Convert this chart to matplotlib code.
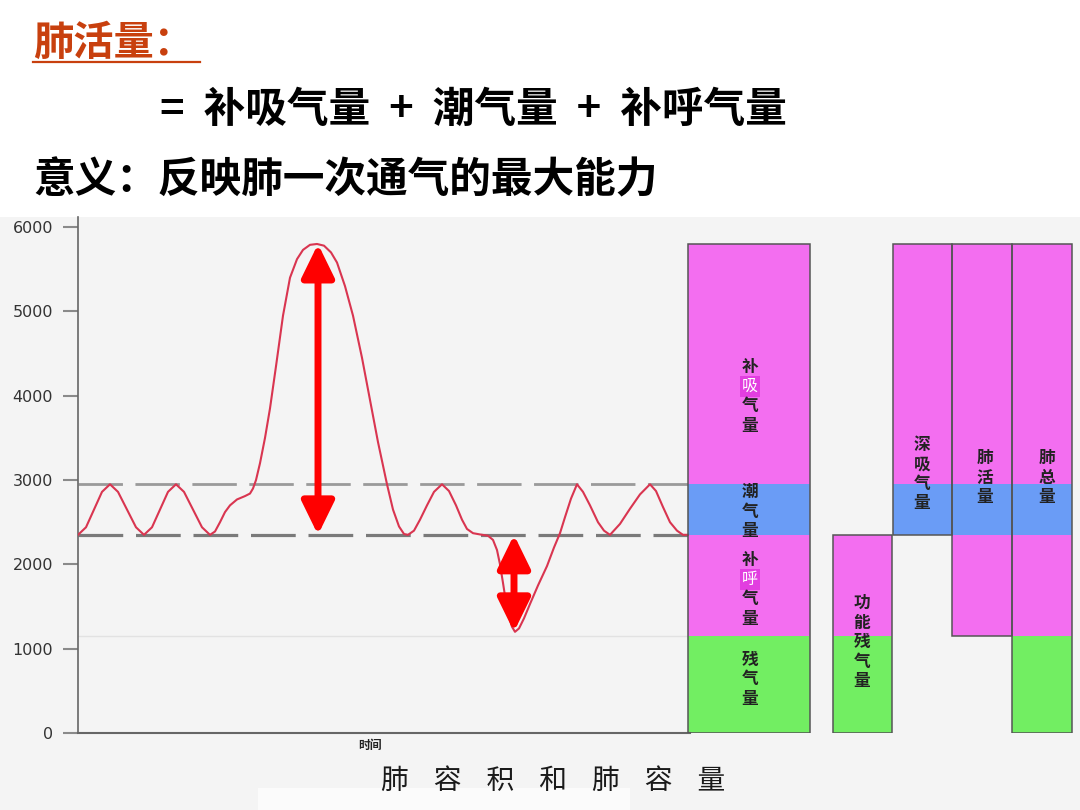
import matplotlib
matplotlib.use('Agg')
import matplotlib.pyplot as plt
from matplotlib.patches import Rectangle

plt.rcParams['font.family'] = ['Noto Sans CJK SC', 'DejaVu Sans']

# --- data (volume in ml, time in arbitrary units) ---
time = [0, 8, 16, 24, 32, 40, 49, 58, 66, 74, 82, 90, 98, 106, 115, 124, 132,
        137, 142, 147, 152, 159, 167, 172, 175, 178, 182, 187, 192, 198, 205,
        212, 219, 225, 232, 239, 246, 253, 259, 267, 275, 284, 292, 300, 309,
        315, 321, 326, 330, 336, 342, 349, 356, 364, 371, 378, 384, 389, 395,
        402, 410, 415, 419, 422, 425, 428, 431, 434, 437, 441, 446, 452, 460,
        469, 476, 482, 487, 493, 499, 505, 512, 520, 526, 532, 542, 552, 562,
        572, 578, 585, 592, 599, 605, 610]
volume = [2350, 2440, 2650, 2860, 2950, 2860, 2650, 2440, 2350, 2440, 2650,
          2860, 2950, 2860, 2650, 2440, 2350, 2390, 2500, 2620, 2700, 2770,
          2810, 2840, 2900, 3000, 3200, 3500, 3850, 4350, 4950, 5400, 5620,
          5730, 5790, 5800, 5780, 5700, 5580, 5300, 4950, 4450, 3950, 3450,
          2950, 2650, 2450, 2360, 2350, 2400, 2530, 2700, 2860, 2950, 2870,
          2700, 2530, 2420, 2370, 2355, 2340, 2290, 2170, 2000, 1780, 1550,
          1380, 1260, 1200, 1240, 1360, 1530, 1750, 1980, 2200, 2370, 2560,
          2780, 2950, 2860, 2700, 2500, 2400, 2350, 2480, 2660, 2830, 2950,
          2870, 2680, 2500, 2400, 2350, 2350]

residual = 1150
erv_top = 2350
tv_top = 2950
irv_top = 5800
seg_bounds = [0, residual, erv_top, tv_top, irv_top]
seg_colors = ['#72ee62', '#f36ef0', '#6a9cf6', '#f36ef0']

# bars: (left, width, segments used)
bar_left = [610, 755, 815, 874, 934]
bar_width = [122, 59, 59, 60, 60]
bar_segs = [[0, 1, 2, 3], [0, 1], [2, 3], [1, 2, 3], [0, 1, 2, 3]]

# vertical labels: (x centre, top char volume, text, highlighted char index)
labels = [
    (672, 4340, '补吸气量', 1),
    (672, 2858, '潮气量', None),
    (672, 2051, '补呼气量', 1),
    (672, 866, '残气量', None),
    (784, 1541, '功能残气量', None),
    (844, 3415, '深吸气量', None),
    (907, 3261, '肺活量', None),
    (969, 3261, '肺总量', None),
]
char_step = 231

yticks = [0, 1000, 2000, 3000, 4000, 5000, 6000]

W, H = 1080, 810
fig = plt.figure(figsize=(10.8, 8.1), dpi=100)
fig.patch.set_facecolor('white')

# grey picture background
fig.add_artist(Rectangle((0, 0), 1, (H - 217) / H, transform=fig.transFigure,
                         facecolor='#f4f4f4', edgecolor='none', zorder=0))
fig.add_artist(Rectangle((258 / W, 0), (630 - 258) / W, (H - 788) / H,
                         transform=fig.transFigure, facecolor='#fbfbfb',
                         edgecolor='none', zorder=0))

ax = fig.add_axes([78 / W, (H - 733) / H, (W - 78) / W, (733 - 217) / H])
ax.set_facecolor('none')
ax.set_xlim(0, W - 78)
ax.set_ylim(0, 6120)

# reference lines
ax.plot([0, 610], [tv_top, tv_top], color='#9a9a9a', lw=2.0,
        linestyle=(0, (16, 4.5)), zorder=2)
ax.plot([0, 610], [erv_top, erv_top], color='#7a7a7a', lw=2.3,
        linestyle=(0, (14, 4)), zorder=2)
ax.plot([0, 610], [residual, residual], color='#e2e2e2', lw=1, zorder=1)

# spirogram curve
ax.plot(time, volume, color='#d93550', lw=1.5, zorder=3)

# arrows
arrow_style = '<|-|>,head_length=0.45,head_width=0.22'
ax.annotate('', xy=(240, irv_top), xytext=(240, erv_top),
            arrowprops=dict(arrowstyle=arrow_style, color='#ff0000', lw=5,
                            mutation_scale=45, shrinkA=0, shrinkB=0), zorder=4)
ax.annotate('', xy=(436, 1200), xytext=(436, erv_top),
            arrowprops=dict(arrowstyle=arrow_style, color='#ff0000', lw=5,
                            mutation_scale=45, shrinkA=0, shrinkB=0), zorder=4)

# stacked bars
for left, width, segs in zip(bar_left, bar_width, bar_segs):
    for s in segs:
        lo, hi = seg_bounds[s], seg_bounds[s + 1]
        ax.bar(left, hi - lo, width=width, bottom=lo, align='edge',
               color=seg_colors[s], edgecolor='none', zorder=2)
    lo = seg_bounds[segs[0]]
    hi = seg_bounds[segs[-1] + 1]
    ax.add_patch(Rectangle((left, lo), width, hi - lo, facecolor='none',
                           edgecolor='#555555', lw=1.1, zorder=3))

for x, top, txt, hl in labels:
    for i, ch in enumerate(txt):
        y = top - i * char_step
        if i == hl:
            ax.text(x, y, ch, ha='center', va='center', fontsize=11.5,
                    color='white', zorder=5,
                    bbox=dict(boxstyle='square,pad=0.1', facecolor='#e23ee0',
                              edgecolor='none'))
        else:
            ax.text(x, y, ch, ha='center', va='center', fontsize=12,
                    fontweight='bold', color='#222222', zorder=5)

# axes styling
for side in ['top', 'right']:
    ax.spines[side].set_visible(False)
ax.spines['left'].set_color('#666666')
ax.spines['left'].set_linewidth(1.2)
ax.spines['bottom'].set_color('#666666')
ax.spines['bottom'].set_linewidth(1.5)
ax.spines['bottom'].set_bounds(0, 612)
ax.set_xticks([])
ax.set_yticks(yticks)
ax.set_yticklabels([str(v) for v in yticks], family='DejaVu Sans',
                   fontsize=11.5, color='#333333')
ax.tick_params(axis='y', length=11, width=1.5, color='#8a8a8a', pad=7)

ax.text(292, -150, '时间', ha='center', va='center', fontsize=8.5,
        fontweight='bold', color='#222222')

# slide texts
fig.text(553 / W, 1 - 781 / H, '    '.join('肺容积和肺容量'),
         ha='center', va='center', fontsize=20, fontweight='medium',
         color='#1a1a1a')
fig.text(33 / W, 1 - 43 / H, '肺活量：', ha='left', va='center', fontsize=29,
         fontweight='bold', color='#c8400e')
fig.add_artist(plt.Line2D([33 / W, 200 / W], [1 - 62 / H, 1 - 62 / H],
                          color='#c8400e', lw=1.6))
fig.text(160 / W, 1 - 110 / H, '=  补吸气量  +  潮气量  +  补呼气量', ha='left',
         va='center', fontsize=30, fontweight='bold', color='black')
fig.text(33 / W, 1 - 180 / H, '意义：反映肺一次通气的最大能力', ha='left',
         va='center', fontsize=30, fontweight='bold', color='black')

fig.savefig('out.png', dpi=100, facecolor=fig.get_facecolor())
